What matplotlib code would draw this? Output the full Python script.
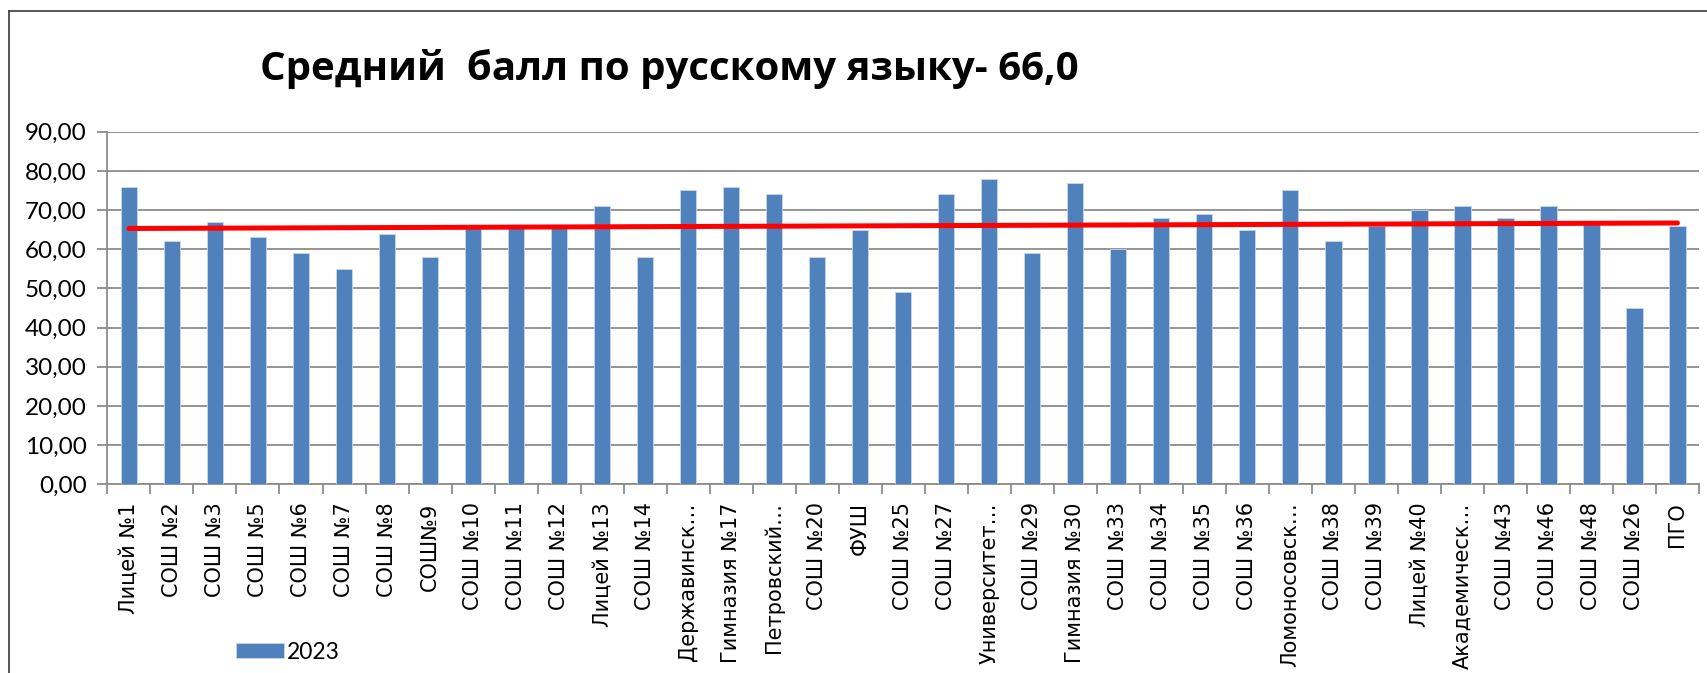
import matplotlib.pyplot as plt
from matplotlib.lines import Line2D
import numpy as np

schools = ['Лицей №1', 'СОШ №2', 'СОШ №3', 'СОШ №5', 'СОШ №6', 'СОШ №7', 'СОШ №8', 'СОШ№9',
           'СОШ №10', 'СОШ №11', 'СОШ №12', 'Лицей №13', 'СОШ №14', 'Державинск…',
           'Гимназия №17', 'Петровский…', 'СОШ №20', 'ФУШ', 'СОШ №25', 'СОШ №27',
           'Университет…', 'СОШ №29', 'Гимназия №30', 'СОШ №33', 'СОШ №34', 'СОШ №35',
           'СОШ №36', 'Ломоносовск…', 'СОШ №38', 'СОШ №39', 'Лицей №40', 'Академическ…',
           'СОШ №43', 'СОШ №46', 'СОШ №48', 'СОШ №26', 'ПГО']
scores_2023 = [76, 62, 67, 63, 59, 55, 64, 58, 66, 66, 66, 71, 58, 75, 76, 74, 58, 65, 49, 74,
               78, 59, 77, 60, 68, 69, 65, 75, 62, 66, 70, 71, 68, 71, 67, 45, 66]
# red trend line, value at first and last school
trend_ends = [65.3, 66.7]
yticks = [0, 10, 20, 30, 40, 50, 60, 70, 80, 90]
title = 'Средний  балл по русскому языку- 66,0'

BLUE = '#4F81BD'
GRID = '#8C8C8C'

fig = plt.figure(figsize=(17.08, 6.73), dpi=100)
ax = fig.add_axes([0.0629, 0.2804, 0.9318, 0.5239])

x = np.arange(len(schools))
bars = ax.bar(x, scores_2023, width=0.38, color=BLUE, edgecolor='#C9D6EA', linewidth=0.6,
              label='2023', zorder=3)
ax.plot([x[0], x[-1]], trend_ends, color='#FF0000', linewidth=3.6, solid_capstyle='round', zorder=4)

ax.set_xlim(-0.5, len(schools) - 0.5)
ax.set_ylim(0, 90)
ax.set_yticks(yticks)
ax.set_yticklabels([f'{v:.2f}'.replace('.', ',') for v in yticks], fontfamily='Lato', fontsize=17.5)
ax.grid(axis='y', color=GRID, linewidth=1.3, zorder=0)

ax.set_xticks(x)
ax.set_xticklabels(schools, rotation=90, fontfamily='DejaVu Sans', fontsize=15, va='top')
ax.set_xticks(np.arange(len(schools) + 1) - 0.5, minor=True)
ax.tick_params(axis='x', which='major', length=0, pad=13)
ax.tick_params(axis='x', which='minor', length=7, color=GRID, width=1.3)
ax.tick_params(axis='y', length=7, color=GRID, width=1.3, pad=8)

for side in ['top', 'right']:
    ax.spines[side].set_visible(False)
for side in ['left', 'bottom']:
    ax.spines[side].set_color(GRID)
    ax.spines[side].set_linewidth(1.3)

fig.text(0.392, 0.897, title, fontfamily='Open Sans', fontweight='bold', fontsize=29,
         ha='center', va='center')

fig.legend(handles=[bars], labels=['2023'], loc='center left', bbox_to_anchor=(0.138, 0.031),
           frameon=False, prop={'family': 'Lato', 'size': 16.5}, handlelength=2.1, handleheight=0.6,
           handletextpad=0.15, borderpad=0, borderaxespad=0)

# chart frame (left and top edges show)
fig.add_artist(Line2D([9.5 / 1708, 9.5 / 1708], [-0.1, 1 - 10.5 / 673], color='#3A3A3A',
                      linewidth=1.2, transform=fig.transFigure))
fig.add_artist(Line2D([9.5 / 1708, 1.1], [1 - 10.5 / 673, 1 - 10.5 / 673], color='#3A3A3A',
                      linewidth=1.2, transform=fig.transFigure))

fig.savefig('out.png', dpi=100)
